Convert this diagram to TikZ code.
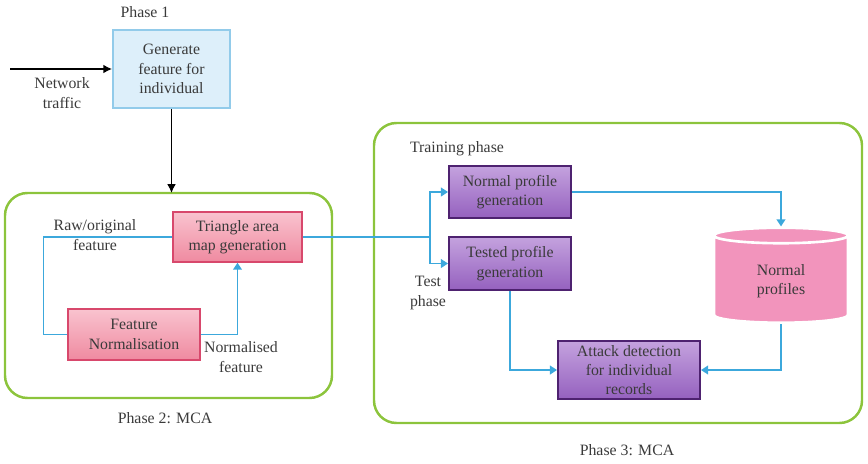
\documentclass[tikz,border=0pt]{standalone}
\usepackage{fontspec}
\setmainfont{Liberation Serif}
\usepackage{tikz}
\usetikzlibrary{shapes.geometric,arrows.meta,positioning,calc}
\definecolor{cGenFill}{HTML}{DDEFFA}
\definecolor{cGenLine}{HTML}{92CBEA}
\definecolor{cPinkTop}{HTML}{F9C3CF}
\definecolor{cPinkBot}{HTML}{EF8AA0}
\definecolor{cPinkLine}{HTML}{D8486C}
\definecolor{cPurpTop}{HTML}{C4A2DE}
\definecolor{cPurpBot}{HTML}{9561BF}
\definecolor{cPurpLine}{HTML}{4E2270}
\definecolor{cStore}{HTML}{F294BC}
\definecolor{cFlow}{HTML}{3CA8DC}
\definecolor{cPhase}{HTML}{8CC43C}
\definecolor{cText}{HTML}{3A3A3A}
\begin{document}
\begin{tikzpicture}[
  x=0.02cm, y=-0.02cm,
  every node/.style={font=\small, text=cText},
  genbox/.style={
    rectangle, draw=cGenLine, line width=1pt, fill=cGenFill,
    align=center, inner sep=2pt
  },
  mcabox/.style={
    rectangle, draw=cPinkLine, line width=0.8pt,
    top color=cPinkTop, bottom color=cPinkBot,
    align=center, inner sep=2pt
  },
  profbox/.style={
    rectangle, draw=cPurpLine, line width=1.2pt,
    top color=cPurpTop, bottom color=cPurpBot,
    align=center, inner sep=2pt
  },
  store/.style={
    cylinder, shape border rotate=90, aspect=0.28,
    draw=white, line width=1.5pt, fill=cStore,
    align=center, inner sep=2pt
  },
  phasebox/.style={draw=cPhase, line width=1.4pt, rounded corners=0.45cm},
  label/.style={align=center},
  flow/.style={draw=cFlow, line width=0.9pt},
  flowarr/.style={flow, -{Triangle[width=5pt,length=4pt]}},
  inarrow/.style={draw=black, line width=0.9pt, -{Latex[width=5pt,length=5pt]}},
]
\useasboundingbox (0,0) rectangle (868,463);
% Phase boxes
\draw[phasebox] (5,193) rectangle (332,398);
\draw[phasebox] (374,123) rectangle (862,423);
% Phase 1
\node[label] (ph1) at (145,12) {Phase 1};
\node[genbox,minimum width=2.34cm,minimum height=1.56cm] (gen) at (171.5,69)
  {Generate\\feature for\\individual};
\coordinate (traffic) at (10,69);
\coordinate (p2top) at (171.5,193);
\node[label] (net) at (62,93) {Network\\traffic};
% Phase 2
\node[mcabox,minimum width=2.58cm,minimum height=1.0cm] (tri) at (237.5,237)
  {Triangle area\\map generation};
\node[mcabox,minimum width=2.64cm,minimum height=1.02cm] (norm) at (134,334.5)
  {Feature\\Normalisation};
\node[label] (raw) at (95,235) {Raw/original\\feature};
\node[label] (normf) at (241,357) {Normalised\\feature};
\node[label] (ph2) at (165,418) {Phase 2: MCA};
% Phase 3
\node[label] (train) at (457,149) {Training phase};
\node[profbox,minimum width=2.44cm,minimum height=1.04cm] (npg) at (510,192)
  {Normal profile\\generation};
\node[profbox,minimum width=2.44cm,minimum height=1.06cm] (tpg) at (510,263.5)
  {Tested profile\\generation};
\node[label] (test) at (428,293) {Test\\phase};
\node[store,minimum width=2.68cm,minimum height=1.9cm] (db) at (781,281)
  {Normal\\profiles};
\node[profbox,minimum width=2.84cm,minimum height=1.16cm] (att) at (629,370)
  {Attack detection\\for individual\\records};
\node[label] (ph3) at (627,450) {Phase 3: MCA};
\coordinate (split) at (430,237);
% Arrows
\draw[inarrow] (traffic) -- (gen.west);
\draw[inarrow] (gen.south) -- (p2top);
\draw[flow] (tri.west) -| ([xshift=-0.48cm]norm.west) -- (norm.west);
\draw[flowarr] (norm.east) -| (tri.south);
\draw[flow] (tri.east) -- (split);
\draw[flowarr] (split) |- (npg.west);
\draw[flowarr] (split) |- (tpg.west);
\draw[flowarr] (npg.east) -| (db.north);
\draw[flowarr] (tpg.south) |- (att.west);
\draw[flowarr] (db.south) |- (att.east);
\end{tikzpicture}
\end{document}
